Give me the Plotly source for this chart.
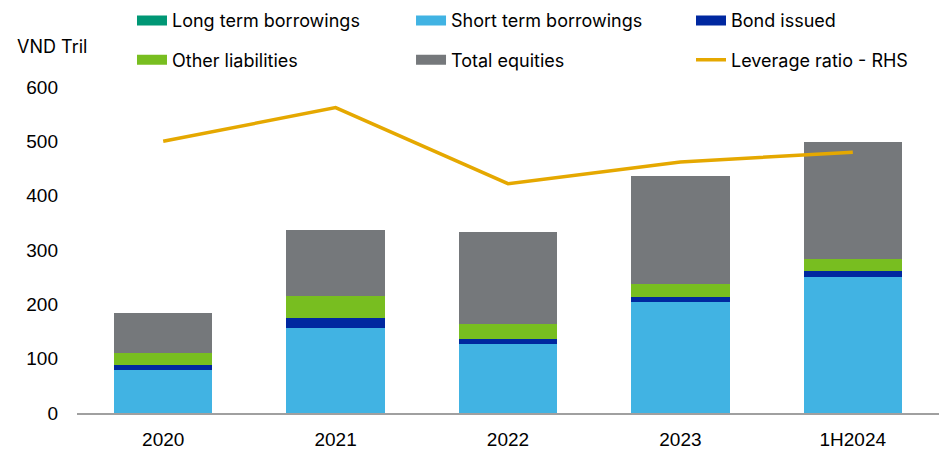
import plotly.graph_objects as go

categories = ["2020", "2021", "2022", "2023", "1H2024"]
long_term = [0, 0, 0, 0, 0]
short_term = [80, 157, 127, 205, 251]
bonds = [8, 17, 10, 8, 10]
other_liab = [22, 41, 27, 25, 22]
equities = [74, 121, 169, 198, 216]
leverage = [2.50, 2.81, 2.11, 2.31, 2.40]

TICK_FONT = "Liberation Sans"
LEG_FONT = "Inter"
fig = go.Figure()
series = [
    ("Long term borrowings", long_term, "#009775", "legend"),
    ("Short term borrowings", short_term, "#41B3E3", "legend2"),
    ("Bond issued", bonds, "#0028A0", "legend3"),
    ("Other liabilities", other_liab, "#78BE20", "legend"),
    ("Total equities", equities, "#75787B", "legend2"),
]
for name, vals, col, leg in series:
    fig.add_trace(go.Bar(x=categories, y=vals, name=name, showlegend=False, legendgroup=name,
                         marker=dict(color=col, line=dict(width=0))))
fig.add_trace(go.Scatter(x=categories, y=leverage, name="Leverage ratio - RHS", mode="lines",
                         line=dict(color="#E5A800", width=3.5), yaxis="y2", showlegend=False,
                         legendgroup="lev"))
# legend entries (wide swatches like the original)
for name, vals, col, leg in series:
    fig.add_trace(go.Scatter(x=[None], y=[None], mode="lines", name=name, legend=leg,
                             legendgroup=name, line=dict(color=col, width=11)))
fig.add_trace(go.Scatter(x=[None], y=[None], mode="lines", name="Leverage ratio - RHS",
                         legend="legend3", legendgroup="lev", line=dict(color="#E5A800", width=3.5)))

def leg(x):
    return dict(orientation="v", x=x, xanchor="left", y=1.26, yanchor="top",
                font=dict(family=LEG_FONT, size=18, color="#000"), tracegroupgap=13,
                bgcolor="rgba(0,0,0,0)", itemclick=False, itemdoubleclick=False)

fig.update_layout(
    width=939, height=449,
    margin=dict(l=77, r=0, t=87, b=36, autoexpand=False),
    barmode="stack", bargap=0.43,
    plot_bgcolor="white", paper_bgcolor="white",
    font=dict(family=TICK_FONT, size=19, color="#000000"),
    xaxis=dict(showgrid=False, showline=True, linecolor="#A0A0A0", linewidth=1.5, ticks="",
               tickfont=dict(size=19), ticklabelstandoff=8),
    yaxis=dict(range=[0, 600], dtick=100, showgrid=False, zeroline=False, showline=False,
               tickfont=dict(size=19), ticklabelstandoff=18),
    yaxis2=dict(range=[0, 3], overlaying="y", side="right", visible=False),
    legend=leg(0.0638), legend2=leg(0.3875), legend3=leg(0.7123),
    annotations=[dict(text="VND Tril", xref="paper", yref="paper", x=-0.029, y=1.1227,
                      xanchor="center", yanchor="middle", showarrow=False,
                      font=dict(family=LEG_FONT, size=18))],
)
fig.write_html("out.html")
